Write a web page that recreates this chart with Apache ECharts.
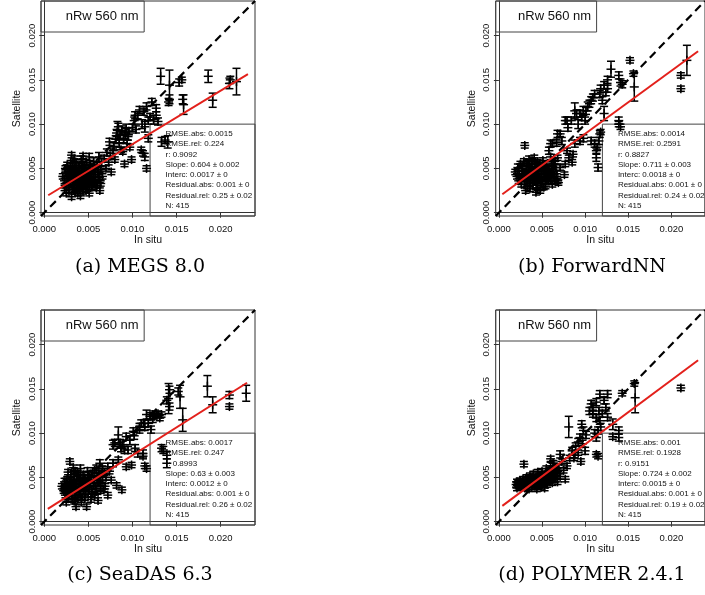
<!DOCTYPE html>
<html><head><meta charset="utf-8">
<script src="https://cdn.jsdelivr.net/npm/echarts@6/dist/echarts.min.js"></script>
<style>html,body{margin:0;padding:0;background:#fff}#c{width:705px;height:595px}</style>
</head><body><div id="c"></div>
<script>
// ---------------- data ----------------
const tickValues = [0, 0.005, 0.010, 0.015, 0.020];
const tickLabels = ['0.000', '0.005', '0.010', '0.015', '0.020'];
const xTitle = 'In situ';
const yTitle = 'Satellite';
const bandTitle = 'nRw 560 nm';
const captions = ['(a) MEGS 8.0', '(b) ForwardNN', '(c) SeaDAS 6.3', '(d) POLYMER 2.4.1'];

// [in situ, satellite, satellite error half-range]
const megsPoints = [
[0.0021,0.0041,0.0003],[0.0023,0.0036,0.0003],[0.0024,0.0045,0.0004],[0.0025,0.0031,0.0003],[0.0026,0.0039,0.0003],[0.0027,0.0049,0.0003],[0.0028,0.0026,0.0003],[0.0028,0.0034,0.0004],[0.0029,0.0043,0.0003],[0.0031,0.0065,0.0003],[0.0031,0.0018,0.0003],[0.0031,0.0038,0.0003],[0.0032,0.0029,0.0003],[0.0032,0.0052,0.0004],[0.0033,0.0046,0.0003],[0.0034,0.0034,0.0003],[0.0035,0.0024,0.0003],[0.0035,0.0041,0.0004],[0.0036,0.0057,0.0003],[0.0037,0.0031,0.0003],[0.0037,0.0048,0.0003],[0.0038,0.0022,0.0003],[0.0038,0.0037,0.0003],[0.0039,0.0044,0.0004],[0.0040,0.0027,0.0003],[0.0040,0.0053,0.0003],[0.0041,0.0034,0.0003],[0.0042,0.0040,0.0003],[0.0042,0.0060,0.0004],[0.0043,0.0047,0.0003],[0.0044,0.0030,0.0003],[0.0044,0.0024,0.0003],[0.0045,0.0038,0.0004],[0.0046,0.0051,0.0003],[0.0046,0.0043,0.0003],[0.0047,0.0033,0.0003],[0.0048,0.0057,0.0003],[0.0049,0.0028,0.0004],[0.0049,0.0047,0.0003],[0.0050,0.0039,0.0003],[0.0051,0.0063,0.0004],[0.0051,0.0022,0.0003],[0.0052,0.0053,0.0003],[0.0053,0.0035,0.0003],[0.0053,0.0044,0.0004],[0.0054,0.0029,0.0003],[0.0055,0.0049,0.0003],[0.0056,0.0058,0.0004],[0.0056,0.0040,0.0003],[0.0057,0.0033,0.0003],[0.0058,0.0046,0.0003],[0.0059,0.0028,0.0003],[0.0060,0.0053,0.0004],[0.0061,0.0043,0.0003],[0.0062,0.0063,0.0005],[0.0063,0.0025,0.0003],[0.0063,0.0037,0.0003],[0.0064,0.0049,0.0003],[0.0065,0.0057,0.0004],[0.0066,0.0041,0.0003],[0.0030,0.0056,0.0003],[0.0026,0.0054,0.0003],[0.0034,0.0061,0.0003],[0.0044,0.0064,0.0003],[0.0025,0.0022,0.0003],[0.0041,0.0019,0.0003],
[0.0023,0.0028,0.0003],[0.0024,0.0050,0.0003],[0.0027,0.0044,0.0003],[0.0029,0.0031,0.0003],[0.0030,0.0047,0.0004],[0.0033,0.0026,0.0003],[0.0033,0.0040,0.0003],[0.0034,0.0050,0.0003],[0.0036,0.0036,0.0003],[0.0036,0.0045,0.0003],[0.0038,0.0032,0.0003],[0.0039,0.0050,0.0003],[0.0041,0.0042,0.0003],[0.0042,0.0029,0.0003],[0.0043,0.0055,0.0003],[0.0045,0.0045,0.0003],[0.0046,0.0035,0.0003],[0.0047,0.0026,0.0003],[0.0048,0.0041,0.0003],[0.0050,0.0050,0.0003],[0.0051,0.0031,0.0003],[0.0052,0.0046,0.0003],[0.0054,0.0038,0.0003],[0.0055,0.0033,0.0003],[0.0057,0.0052,0.0003],[0.0058,0.0038,0.0003],[0.0060,0.0031,0.0003],[0.0061,0.0048,0.0003],[0.0062,0.0040,0.0003],[0.0064,0.0033,0.0003],[0.0039,0.0040,0.0003],[0.0044,0.0050,0.0003],
[0.0068,0.0061,0.0004],[0.0070,0.0050,0.0003],[0.0071,0.0068,0.0004],[0.0073,0.0057,0.0003],[0.0074,0.0080,0.0004],[0.0075,0.0064,0.0003],[0.0076,0.0046,0.0003],[0.0078,0.0070,0.0003],[0.0079,0.0075,0.0004],[0.0080,0.0060,0.0003],[0.0081,0.0083,0.0004],[0.0082,0.0090,0.0004],[0.0083,0.0093,0.0010],[0.0084,0.0097,0.0004],[0.0085,0.0078,0.0004],[0.0086,0.0088,0.0004],[0.0087,0.0071,0.0003],[0.0088,0.0093,0.0005],[0.0089,0.0069,0.0003],[0.0090,0.0083,0.0004],[0.0091,0.0055,0.0003],[0.0092,0.0090,0.0006],[0.0093,0.0095,0.0005],[0.0094,0.0078,0.0004],[0.0095,0.0086,0.0004],[0.0096,0.0092,0.0004],[0.0097,0.0074,0.0003],[0.0099,0.0060,0.0003],[0.0100,0.0096,0.0004],[0.0102,0.0104,0.0004],[0.0103,0.0110,0.0004],[0.0104,0.0094,0.0004],[0.0106,0.0110,0.0004],[0.0108,0.0116,0.0004],[0.0110,0.0071,0.0003],[0.0111,0.0100,0.0005],[0.0112,0.0067,0.0003],[0.0113,0.0114,0.0004],[0.0114,0.0063,0.0004],[0.0114,0.0097,0.0006],[0.0116,0.0120,0.0004],[0.0116,0.0050,0.0003],[0.0118,0.0084,0.0004],[0.0118,0.0104,0.0004],[0.0120,0.0108,0.0004],[0.0122,0.0125,0.0004],[0.0124,0.0105,0.0005],[0.0127,0.0118,0.0004],[0.0127,0.0110,0.0004],[0.0129,0.0103,0.0004],[0.0133,0.0080,0.0005],[0.0137,0.0082,0.0004],[0.0140,0.0080,0.0007],
[0.0132,0.0154,0.0009],[0.0142,0.0144,0.0017],[0.0142,0.0128,0.0005],[0.0141,0.0125,0.0004],[0.0153,0.0147,0.0004],[0.0156,0.0150,0.0003],[0.0158,0.0122,0.0011],[0.0157,0.0128,0.0005],[0.0186,0.0154,0.0007],[0.0191,0.0127,0.0008],[0.0210,0.0146,0.0006],[0.0211,0.0150,0.0004],[0.0218,0.0148,0.0015]
];
const forwardPoints = [
[0.0019,0.0046,0.0003],[0.0021,0.0041,0.0003],[0.0022,0.0051,0.0004],[0.0023,0.0036,0.0003],[0.0024,0.0044,0.0003],[0.0025,0.0055,0.0003],[0.0026,0.0032,0.0003],[0.0027,0.0048,0.0004],[0.0028,0.0040,0.0003],[0.0029,0.0058,0.0003],[0.0030,0.0035,0.0003],[0.0030,0.0076,0.0003],[0.0031,0.0045,0.0004],[0.0031,0.0025,0.0003],[0.0032,0.0052,0.0003],[0.0033,0.0030,0.0003],[0.0034,0.0041,0.0003],[0.0035,0.0060,0.0004],[0.0035,0.0049,0.0003],[0.0036,0.0036,0.0003],[0.0037,0.0044,0.0003],[0.0038,0.0055,0.0004],[0.0039,0.0031,0.0003],[0.0040,0.0047,0.0003],[0.0040,0.0039,0.0003],[0.0041,0.0062,0.0003],[0.0042,0.0052,0.0004],[0.0043,0.0034,0.0003],[0.0044,0.0043,0.0003],[0.0045,0.0057,0.0003],[0.0045,0.0028,0.0003],[0.0046,0.0048,0.0004],[0.0047,0.0038,0.0003],[0.0048,0.0025,0.0003],[0.0048,0.0053,0.0003],[0.0049,0.0044,0.0003],[0.0050,0.0033,0.0004],[0.0051,0.0059,0.0003],[0.0052,0.0049,0.0003],[0.0053,0.0040,0.0003],[0.0054,0.0030,0.0003],[0.0055,0.0054,0.0004],[0.0056,0.0045,0.0003],[0.0057,0.0036,0.0003],[0.0058,0.0050,0.0003],[0.0059,0.0041,0.0004],[0.0060,0.0063,0.0003],[0.0061,0.0047,0.0003],[0.0062,0.0032,0.0003],[0.0063,0.0055,0.0003],[0.0064,0.0043,0.0003],[0.0065,0.0038,0.0003],[0.0066,0.0051,0.0004],[0.0068,0.0036,0.0003],[0.0069,0.0034,0.0003],[0.0043,0.0023,0.0003],[0.0036,0.0027,0.0003],
[0.0022,0.0047,0.0003],[0.0025,0.0039,0.0003],[0.0027,0.0053,0.0003],[0.0029,0.0044,0.0003],[0.0032,0.0038,0.0003],[0.0033,0.0056,0.0003],[0.0034,0.0046,0.0003],[0.0036,0.0033,0.0003],[0.0037,0.0051,0.0003],[0.0038,0.0041,0.0003],[0.0039,0.0058,0.0003],[0.0041,0.0036,0.0003],[0.0042,0.0045,0.0003],[0.0043,0.0055,0.0003],[0.0044,0.0031,0.0003],[0.0046,0.0041,0.0003],[0.0047,0.0051,0.0003],[0.0049,0.0036,0.0003],[0.0050,0.0047,0.0003],[0.0051,0.0054,0.0003],[0.0052,0.0029,0.0003],[0.0053,0.0044,0.0003],[0.0055,0.0038,0.0003],[0.0056,0.0050,0.0003],[0.0058,0.0045,0.0003],[0.0060,0.0036,0.0003],[0.0061,0.0056,0.0003],[0.0063,0.0046,0.0003],[0.0065,0.0058,0.0003],[0.0067,0.0041,0.0003],
[0.0058,0.0070,0.0004],[0.0060,0.0078,0.0004],[0.0062,0.0078,0.0003],[0.0067,0.0079,0.0004],[0.0068,0.0089,0.0004],[0.0068,0.0062,0.0003],[0.0071,0.0089,0.0003],[0.0071,0.0051,0.0003],[0.0073,0.0081,0.0004],[0.0076,0.0043,0.0003],[0.0077,0.0055,0.0003],[0.0077,0.0104,0.0004],[0.0079,0.0070,0.0003],[0.0079,0.0104,0.0004],[0.0080,0.0096,0.0004],[0.0081,0.0062,0.0003],[0.0084,0.0104,0.0004],[0.0085,0.0057,0.0003],[0.0086,0.0066,0.0003],[0.0088,0.0115,0.0009],[0.0088,0.0078,0.0004],[0.0090,0.0112,0.0004],[0.0092,0.0100,0.0005],[0.0094,0.0081,0.0004],[0.0094,0.0112,0.0004],[0.0096,0.0108,0.0004],[0.0098,0.0084,0.0004],[0.0098,0.0115,0.0005],[0.0100,0.0104,0.0004],[0.0101,0.0115,0.0004],[0.0103,0.0120,0.0005],[0.0105,0.0123,0.0004],[0.0107,0.0127,0.0004],[0.0107,0.0081,0.0004],[0.0109,0.0130,0.0004],[0.0111,0.0134,0.0004],[0.0111,0.0078,0.0004],[0.0113,0.0070,0.0003],[0.0113,0.0062,0.0004],[0.0114,0.0074,0.0003],[0.0115,0.0051,0.0004],[0.0116,0.0081,0.0004],[0.0117,0.0089,0.0004],[0.0117,0.0134,0.0004],[0.0118,0.0140,0.0004],[0.0118,0.0091,0.0003],[0.0120,0.0127,0.0004],[0.0122,0.0112,0.0008],[0.0122,0.0144,0.0004],[0.0124,0.0136,0.0004],[0.0126,0.0150,0.0004],[0.0126,0.0140,0.0004],[0.0139,0.0104,0.0004],[0.0139,0.0100,0.0003],[0.0141,0.0097,0.0003],
[0.0130,0.0162,0.0009],[0.0139,0.0155,0.0004],[0.0141,0.0147,0.0004],[0.0143,0.0145,0.0004],[0.0152,0.0172,0.0003],[0.0156,0.0157,0.0003],[0.0157,0.0142,0.0016],[0.0211,0.0155,0.0003],[0.0211,0.0140,0.0003],[0.0218,0.0172,0.0017]
];
const seadasPoints = [
[0.0020,0.0040,0.0003],[0.0022,0.0035,0.0003],[0.0023,0.0045,0.0004],[0.0024,0.0030,0.0003],[0.0025,0.0039,0.0003],[0.0026,0.0048,0.0003],[0.0027,0.0026,0.0003],[0.0028,0.0034,0.0004],[0.0029,0.0043,0.0003],[0.0029,0.0068,0.0003],[0.0030,0.0053,0.0003],[0.0031,0.0029,0.0003],[0.0032,0.0038,0.0003],[0.0033,0.0047,0.0004],[0.0034,0.0023,0.0003],[0.0035,0.0033,0.0003],[0.0035,0.0057,0.0003],[0.0036,0.0017,0.0003],[0.0036,0.0042,0.0003],[0.0037,0.0051,0.0004],[0.0038,0.0027,0.0003],[0.0039,0.0037,0.0003],[0.0040,0.0046,0.0003],[0.0041,0.0060,0.0004],[0.0041,0.0031,0.0003],[0.0042,0.0022,0.0003],[0.0043,0.0041,0.0003],[0.0044,0.0053,0.0003],[0.0045,0.0035,0.0004],[0.0046,0.0027,0.0003],[0.0047,0.0046,0.0003],[0.0048,0.0017,0.0003],[0.0048,0.0039,0.0003],[0.0049,0.0057,0.0004],[0.0050,0.0031,0.0003],[0.0051,0.0050,0.0003],[0.0052,0.0043,0.0003],[0.0053,0.0025,0.0003],[0.0054,0.0036,0.0004],[0.0055,0.0055,0.0003],[0.0056,0.0047,0.0003],[0.0057,0.0030,0.0003],[0.0058,0.0040,0.0003],[0.0059,0.0060,0.0004],[0.0060,0.0051,0.0003],[0.0061,0.0024,0.0003],[0.0062,0.0044,0.0003],[0.0063,0.0066,0.0004],[0.0064,0.0035,0.0003],[0.0065,0.0054,0.0003],[0.0066,0.0047,0.0003],[0.0068,0.0055,0.0003],[0.0069,0.0040,0.0003],[0.0070,0.0050,0.0003],[0.0027,0.0056,0.0003],[0.0033,0.0061,0.0003],[0.0025,0.0022,0.0003],
[0.0023,0.0037,0.0003],[0.0025,0.0046,0.0003],[0.0026,0.0033,0.0003],[0.0028,0.0041,0.0003],[0.0030,0.0036,0.0003],[0.0031,0.0045,0.0003],[0.0032,0.0025,0.0003],[0.0034,0.0040,0.0003],[0.0034,0.0051,0.0003],[0.0036,0.0030,0.0003],[0.0037,0.0045,0.0003],[0.0038,0.0055,0.0003],[0.0040,0.0034,0.0003],[0.0041,0.0050,0.0003],[0.0042,0.0039,0.0003],[0.0043,0.0028,0.0003],[0.0044,0.0045,0.0003],[0.0046,0.0050,0.0003],[0.0047,0.0034,0.0003],[0.0049,0.0043,0.0003],[0.0050,0.0053,0.0003],[0.0051,0.0037,0.0003],[0.0053,0.0048,0.0003],[0.0054,0.0031,0.0003],[0.0056,0.0041,0.0003],[0.0057,0.0058,0.0003],[0.0059,0.0034,0.0003],[0.0060,0.0046,0.0003],[0.0062,0.0055,0.0003],[0.0064,0.0043,0.0003],[0.0066,0.0060,0.0003],[0.0067,0.0037,0.0003],
[0.0072,0.0030,0.0003],[0.0072,0.0062,0.0004],[0.0074,0.0057,0.0003],[0.0076,0.0047,0.0003],[0.0078,0.0066,0.0004],[0.0078,0.0087,0.0005],[0.0080,0.0089,0.0004],[0.0082,0.0041,0.0003],[0.0084,0.0070,0.0003],[0.0084,0.0098,0.0009],[0.0086,0.0089,0.0004],[0.0087,0.0083,0.0004],[0.0088,0.0036,0.0003],[0.0089,0.0087,0.0004],[0.0091,0.0081,0.0004],[0.0093,0.0062,0.0003],[0.0093,0.0096,0.0004],[0.0095,0.0081,0.0004],[0.0097,0.0092,0.0005],[0.0099,0.0064,0.0003],[0.0101,0.0102,0.0004],[0.0102,0.0097,0.0004],[0.0103,0.0083,0.0004],[0.0106,0.0077,0.0004],[0.0108,0.0104,0.0004],[0.0108,0.0107,0.0004],[0.0110,0.0111,0.0004],[0.0112,0.0077,0.0004],[0.0112,0.0074,0.0003],[0.0113,0.0111,0.0004],[0.0114,0.0107,0.0004],[0.0114,0.0063,0.0003],[0.0116,0.0060,0.0003],[0.0116,0.0121,0.0005],[0.0118,0.0111,0.0004],[0.0120,0.0119,0.0004],[0.0121,0.0104,0.0004],[0.0123,0.0121,0.0004],[0.0123,0.0116,0.0004],[0.0125,0.0119,0.0003],[0.0127,0.0121,0.0003],[0.0129,0.0122,0.0003],[0.0131,0.0117,0.0003],[0.0133,0.0121,0.0003],[0.0133,0.0083,0.0004],[0.0135,0.0081,0.0004],[0.0139,0.0075,0.0004],[0.0139,0.0066,0.0005],
[0.0139,0.0137,0.0004],[0.0141,0.0139,0.0017],[0.0142,0.0130,0.0004],[0.0142,0.0149,0.0004],[0.0152,0.0147,0.0004],[0.0154,0.0141,0.0013],[0.0157,0.0115,0.0013],[0.0185,0.0153,0.0012],[0.0191,0.0132,0.0009],[0.0210,0.0143,0.0004],[0.0210,0.0130,0.0003],[0.0229,0.0145,0.0009]
];
const polymerPoints = [
[0.0020,0.0042,0.0003],[0.0022,0.0044,0.0003],[0.0023,0.0040,0.0003],[0.0024,0.0046,0.0003],[0.0025,0.0042,0.0003],[0.0026,0.0039,0.0003],[0.0027,0.0044,0.0003],[0.0028,0.0048,0.0003],[0.0029,0.0065,0.0003],[0.0029,0.0041,0.0003],[0.0030,0.0038,0.0003],[0.0031,0.0045,0.0003],[0.0032,0.0050,0.0003],[0.0033,0.0042,0.0003],[0.0034,0.0039,0.0003],[0.0035,0.0046,0.0003],[0.0036,0.0052,0.0003],[0.0037,0.0043,0.0003],[0.0038,0.0039,0.0003],[0.0039,0.0048,0.0003],[0.0040,0.0054,0.0003],[0.0041,0.0044,0.0003],[0.0042,0.0040,0.0003],[0.0043,0.0050,0.0003],[0.0044,0.0046,0.0003],[0.0045,0.0056,0.0003],[0.0046,0.0041,0.0003],[0.0047,0.0052,0.0003],[0.0048,0.0045,0.0003],[0.0049,0.0039,0.0003],[0.0050,0.0057,0.0003],[0.0051,0.0048,0.0003],[0.0052,0.0043,0.0003],[0.0053,0.0053,0.0003],[0.0054,0.0047,0.0003],[0.0055,0.0060,0.0003],[0.0056,0.0042,0.0003],[0.0057,0.0051,0.0003],[0.0058,0.0056,0.0003],[0.0059,0.0046,0.0003],[0.0060,0.0063,0.0004],[0.0061,0.0050,0.0003],[0.0062,0.0044,0.0003],[0.0063,0.0066,0.0003],[0.0064,0.0055,0.0003],[0.0065,0.0048,0.0003],[0.0066,0.0059,0.0003],[0.0067,0.0052,0.0003],[0.0068,0.0045,0.0003],[0.0035,0.0037,0.0003],[0.0044,0.0037,0.0003],[0.0053,0.0038,0.0003],[0.0021,0.0038,0.0003],
[0.0021,0.0045,0.0003],[0.0023,0.0043,0.0003],[0.0025,0.0046,0.0003],[0.0026,0.0042,0.0003],[0.0028,0.0044,0.0003],[0.0030,0.0042,0.0003],[0.0031,0.0048,0.0003],[0.0032,0.0040,0.0003],[0.0034,0.0045,0.0003],[0.0035,0.0042,0.0003],[0.0036,0.0048,0.0003],[0.0038,0.0045,0.0003],[0.0039,0.0042,0.0003],[0.0040,0.0050,0.0003],[0.0042,0.0047,0.0003],[0.0043,0.0043,0.0003],[0.0045,0.0049,0.0003],[0.0046,0.0045,0.0003],[0.0047,0.0041,0.0003],[0.0049,0.0051,0.0003],[0.0050,0.0045,0.0003],[0.0052,0.0049,0.0003],[0.0053,0.0044,0.0003],[0.0055,0.0052,0.0003],[0.0056,0.0048,0.0003],[0.0058,0.0052,0.0003],[0.0059,0.0058,0.0003],[0.0061,0.0054,0.0003],[0.0062,0.0059,0.0003],[0.0064,0.0050,0.0003],[0.0066,0.0055,0.0003],[0.0068,0.0057,0.0003],
[0.0060,0.0071,0.0003],[0.0063,0.0066,0.0003],[0.0069,0.0061,0.0003],[0.0071,0.0076,0.0004],[0.0071,0.0051,0.0003],[0.0073,0.0068,0.0003],[0.0075,0.0058,0.0003],[0.0077,0.0048,0.0003],[0.0079,0.0063,0.0003],[0.0081,0.0107,0.0012],[0.0082,0.0072,0.0003],[0.0085,0.0080,0.0004],[0.0087,0.0072,0.0003],[0.0088,0.0075,0.0003],[0.0089,0.0085,0.0004],[0.0092,0.0090,0.0004],[0.0092,0.0078,0.0003],[0.0094,0.0095,0.0004],[0.0095,0.0068,0.0003],[0.0096,0.0110,0.0004],[0.0097,0.0088,0.0004],[0.0098,0.0103,0.0004],[0.0100,0.0080,0.0004],[0.0101,0.0098,0.0004],[0.0105,0.0125,0.0004],[0.0107,0.0133,0.0004],[0.0109,0.0129,0.0004],[0.0109,0.0122,0.0004],[0.0111,0.0100,0.0004],[0.0113,0.0135,0.0004],[0.0113,0.0117,0.0004],[0.0113,0.0095,0.0004],[0.0113,0.0076,0.0003],[0.0115,0.0103,0.0004],[0.0115,0.0074,0.0003],[0.0116,0.0125,0.0004],[0.0117,0.0144,0.0004],[0.0117,0.0114,0.0004],[0.0118,0.0107,0.0004],[0.0120,0.0122,0.0004],[0.0122,0.0137,0.0004],[0.0124,0.0129,0.0004],[0.0126,0.0144,0.0004],[0.0126,0.0118,0.0004],[0.0132,0.0110,0.0006],[0.0132,0.0096,0.0003],[0.0139,0.0103,0.0004],[0.0139,0.0095,0.0004],
[0.0143,0.0145,0.0003],[0.0157,0.0156,0.0003],[0.0158,0.0140,0.0017],[0.0211,0.0151,0.0003]
];

const megsStats = ['RMSE.abs: 0.0015','RMSE.rel: 0.224','r: 0.9092','Slope: 0.604 \u00b1 0.002','Interc: 0.0017 \u00b1 0','Residual.abs: 0.001 \u00b1 0','Residual.rel: 0.25 \u00b1 0.02','N: 415'];
const forwardStats = ['RMSE.abs: 0.0014','RMSE.rel: 0.2591','r: 0.8827','Slope: 0.711 \u00b1 0.003','Interc: 0.0018 \u00b1 0','Residual.abs: 0.001 \u00b1 0','Residual.rel: 0.24 \u00b1 0.02','N: 415'];
const seadasStats = ['RMSE.abs: 0.0017','RMSE.rel: 0.247','r: 0.8993','Slope: 0.63 \u00b1 0.003','Interc: 0.0012 \u00b1 0','Residual.abs: 0.001 \u00b1 0','Residual.rel: 0.26 \u00b1 0.02','N: 415'];
const polymerStats = ['RMSE.abs: 0.001','RMSE.rel: 0.1928','r: 0.9151','Slope: 0.724 \u00b1 0.002','Interc: 0.0015 \u00b1 0','Residual.abs: 0.001 \u00b1 0','Residual.rel: 0.19 \u00b1 0.02','N: 415'];

const fitSlopes = [0.604, 0.711, 0.63, 0.724];
const fitIntercepts = [0.0017, 0.0018, 0.0012, 0.0015];
const fitRanges = [[0.00045, 0.0231], [0.0004, 0.0231], [0.0004, 0.0230], [0.0004, 0.0231]];

// ---------------- layout / style ----------------
const AX_MIN = -0.00037, AX_MAX = 0.0239;
const TITLE_BOX = [0.01133, 0.0204];   // right edge x, bottom edge y (data units)
const STATS_BOX = [0.012, 0.010];      // left edge x, top edge y (data units)
const LAYOUT = [{left: 41, top: 1}, {left: 495.7, top: 1}, {left: 41, top: 310}, {left: 495.7, top: 310}];
const PLOT_W = 214, PLOT_H = 215;
const CAPTION_POS = [[140, 267], [592, 267], [140, 575], [592, 575]];
const FONT = '"Liberation Sans", Arial, Helvetica, sans-serif';
const PLUS = 4.5, CAP = 4;

const panels = [
  {points: megsPoints, stats: megsStats},
  {points: forwardPoints, stats: forwardStats},
  {points: seadasPoints, stats: seadasStats},
  {points: polymerPoints, stats: polymerStats}
];

function tickText(v) {
  let best = 0;
  tickValues.forEach((t, i) => { if (Math.abs(t - v) < Math.abs(tickValues[best] - v)) best = i; });
  return tickLabels[best];
}

function renderErr(params, api) {
  const x = api.value(0), y = api.value(1), e = api.value(2);
  const c = api.coord([x, y]);
  const hi = api.coord([x, y + e]);
  const lo = api.coord([x, y - e]);
  const st = {stroke: '#000', lineWidth: 1.5, fill: null};
  return {type: 'group', children: [
    {type: 'line', shape: {x1: c[0], y1: hi[1], x2: c[0], y2: lo[1]}, style: st},
    {type: 'line', shape: {x1: c[0] - CAP, y1: hi[1], x2: c[0] + CAP, y2: hi[1]}, style: st},
    {type: 'line', shape: {x1: c[0] - CAP, y1: lo[1], x2: c[0] + CAP, y2: lo[1]}, style: st},
    {type: 'line', shape: {x1: c[0] - PLUS, y1: c[1], x2: c[0] + PLUS, y2: c[1]}, style: st},
    {type: 'line', shape: {x1: c[0], y1: c[1] - PLUS, x2: c[0], y2: c[1] + PLUS}, style: st}
  ]};
}

const grids = [], xAxes = [], yAxes = [], series = [], graphics = [];
panels.forEach((p, i) => {
  const L = LAYOUT[i];
  grids.push({left: L.left, top: L.top, width: PLOT_W, height: PLOT_H, show: true,
    borderColor: '#333', borderWidth: 1, backgroundColor: 'transparent', containLabel: false});
  const common = {
    type: 'value', gridIndex: i, min: AX_MIN, max: AX_MAX,
    splitLine: {show: false},
    axisLine: {show: true, lineStyle: {color: '#333', width: 1}},
    axisTick: {show: true, inside: false, length: 5, lineStyle: {color: '#333', width: 1}, customValues: tickValues},
    nameLocation: 'middle',
    nameTextStyle: {fontFamily: FONT, fontSize: 10.5, color: '#111'}
  };
  xAxes.push(Object.assign({}, common, {
    position: 'bottom', name: xTitle, nameGap: 19,
    axisLabel: {customValues: tickValues, formatter: tickText, fontFamily: FONT, fontSize: 9.5, color: '#111', margin: 8}
  }));
  yAxes.push(Object.assign({}, common, {
    position: 'left', name: yTitle, nameGap: 18,
    axisLabel: {customValues: tickValues, formatter: tickText, fontFamily: FONT, fontSize: 9.5, color: '#111', margin: 4, rotate: 90}
  }));

  series.push({
    type: 'custom', xAxisIndex: i, yAxisIndex: i, renderItem: renderErr, clip: true, z: 3,
    encode: {x: 0, y: 1}, data: p.points, silent: true, animation: false
  });
  series.push({
    type: 'line', xAxisIndex: i, yAxisIndex: i, showSymbol: false, silent: true, animation: false, z: 4,
    data: [[AX_MIN, AX_MIN], [AX_MAX, AX_MAX]],
    lineStyle: {color: '#000', width: 2.2, type: [8, 5]},
    markArea: {
      silent: true, animation: false,
      itemStyle: {color: 'rgba(0,0,0,0)', borderColor: '#444', borderWidth: 1},
      data: [
        [{xAxis: AX_MIN, yAxis: AX_MAX,
          label: {show: true, position: 'insideRight', distance: 6, formatter: () => bandTitle,
                  fontFamily: FONT, fontSize: 13, color: '#111'}},
         {xAxis: TITLE_BOX[0], yAxis: TITLE_BOX[1]}],
        [{xAxis: STATS_BOX[0], yAxis: STATS_BOX[1],
          label: {show: true, position: 'insideTopLeft', distance: 5, padding: [0, 0, 0, 11],
                  formatter: () => p.stats.join('\n'), fontFamily: FONT, fontSize: 8, lineHeight: 10.3, color: '#111'}},
         {xAxis: AX_MAX, yAxis: AX_MIN}]
      ]
    }
  });
  const r = fitRanges[i];
  series.push({
    type: 'line', xAxisIndex: i, yAxisIndex: i, showSymbol: false, silent: true, animation: false, z: 5,
    data: r.map(x => [x, fitIntercepts[i] + fitSlopes[i] * x]),
    lineStyle: {color: '#e3201b', width: 2}
  });
  graphics.push({type: 'text', x: CAPTION_POS[i][0], y: CAPTION_POS[i][1],
    style: {text: captions[i], textAlign: 'center', textVerticalAlign: 'middle',
            font: '19px "DejaVu Serif"', fill: '#000'}});
});

const chart = echarts.init(document.getElementById('c'), null, {renderer: 'canvas'});
chart.setOption({
  animation: false,
  backgroundColor: '#fff',
  grid: grids, xAxis: xAxes, yAxis: yAxes, series: series, graphic: graphics
});
</script>
</body></html>
